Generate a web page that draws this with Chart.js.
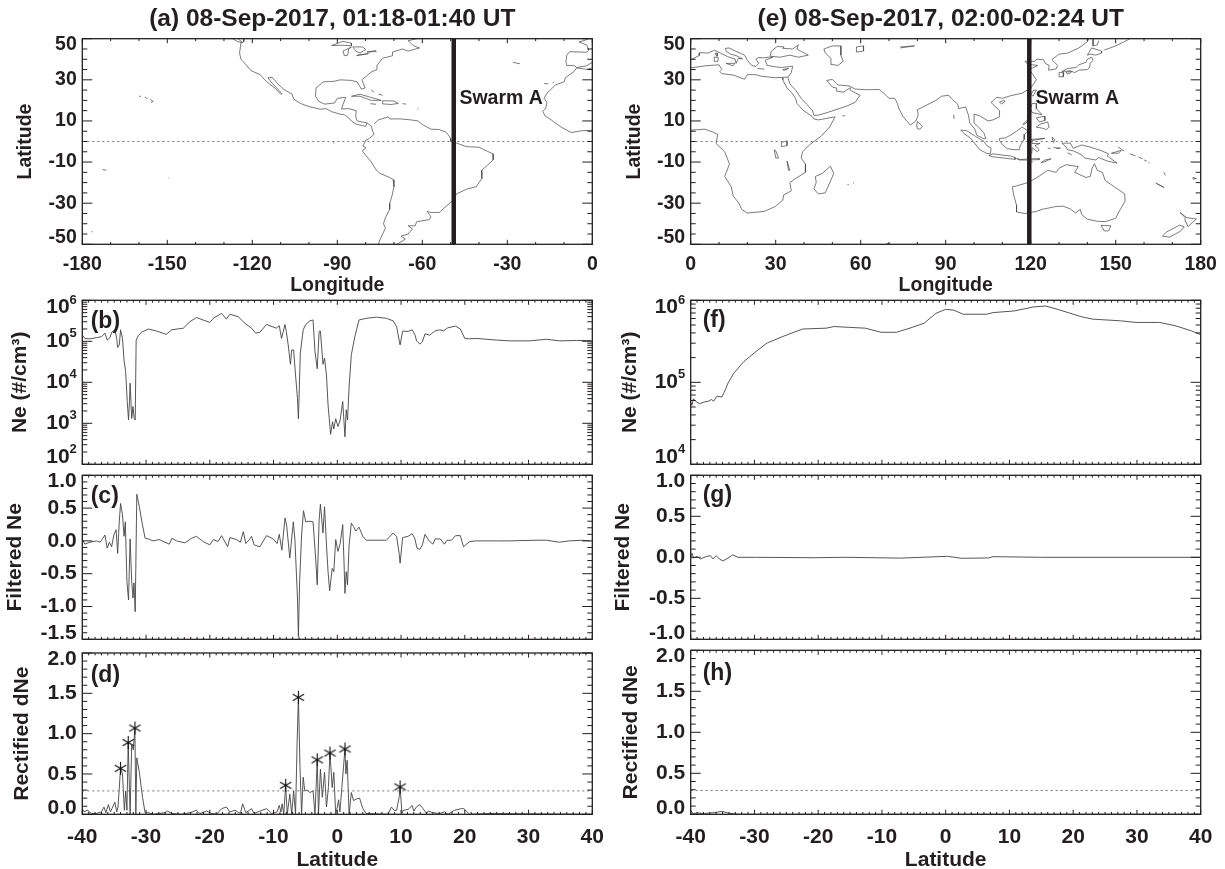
<!DOCTYPE html>
<html>
<head>
<meta charset="utf-8">
<title>Swarm A Ne, 08-Sep-2017</title>
<script src="https://cdn.jsdelivr.net/npm/chart.js@4"></script>
<style>
html, body { margin: 0; padding: 0; background: #fff; overflow: hidden; }
canvas { position: absolute; }
</style>
</head>
<body>
<script>
// tick values
const lonTicksA = [-180, -150, -120, -90, -60, -30, 0];
const lonTicksE = [0, 30, 60, 90, 120, 150, 180];
const mapLatTicks = [50, 30, 10, -10, -30, -50];
const latTicks = [-40, -30, -20, -10, 0, 10, 20, 30, 40];
const neTicksB = [6, 5, 4, 3, 2];
const neTicksF = [6, 5, 4];
const filtTicksC = [1.0, 0.5, 0.0, -0.5, -1.0, -1.5];
const filtTicksG = [1.0, 0.5, 0.0, -0.5, -1.0];
const rectTicks = [2.0, 1.5, 1.0, 0.5, 0.0];

// titles
const titleA = "(a) 08-Sep-2017, 01:18-01:40 UT";
const titleE = "(e) 08-Sep-2017, 02:00-02:24 UT";

// satellite track longitude and threshold
const trackLonA = -48.9;
const trackLonE = 119.5;
const swarmLabelA = [-46.9, 21];
const swarmLabelE = [121.7, 21];
const threshold = 0.29;

// panel (b) - log10 of Ne
const latB = [-40, -39.6, -38.8, -37.75, -37, -36.45, -36.1, -35.65, -35.4, -34.9, -34.6, -34.45, -34.2, -34, -33.7, -33.45, -33.2, -32.95, -32.75, -32.6, -32.5, -32.25, -32.05, -31.85, -31.7, -31.55, -31.2, -30.7, -29.65, -28.35, -26.8, -26, -24.15, -23.1, -22.1, -21.05, -20, -19.45, -18.15, -17.4, -16.85, -15.55, -14.5, -13.45, -12.8, -12.15, -11.1, -9.55, -9.1, -8.75, -8.2, -8, -7.7, -7.35, -7.15, -6.85, -6.55, -6.25, -6.1, -5.8, -5.35, -4.95, -4.3, -3.8, -3.5, -3.15, -2.85, -2.65, -2.25, -2, -1.7, -1.45, -1.2, -1.05, -0.75, -0.55, -0.25, 0.1, 0.45, 0.85, 1.05, 1.2, 1.4, 1.6, 1.85, 2.2, 2.75, 3.4, 4.55, 6.15, 7.7, 8.75, 9.3, 9.7, 9.85, 10.25, 11.1, 11.75, 12.15, 12.45, 12.95, 13.35, 13.75, 14.5, 15.3, 16.05, 16.7, 17.35, 18.55, 19.3, 20, 20.75, 21.8, 24.95, 27.05, 30.2, 32.8, 34.85, 37.5, 39.05, 39.85];
const neExpB = [5.15, 5.07, 5.06, 5.09, 5.11, 5.20, 5.03, 5.09, 5.22, 5.28, 5.07, 4.85, 4.91, 5.28, 5.07, 4.54, 4.26, 3.53, 3.08, 3.53, 3.98, 3.12, 3.41, 3.11, 3.08, 5.03, 5.14, 5.22, 5.30, 5.25, 5.17, 5.28, 5.32, 5.48, 5.58, 5.52, 5.46, 5.56, 5.68, 5.54, 5.66, 5.60, 5.44, 5.32, 5.20, 5.22, 5.41, 5.32, 5.38, 5.07, 5.41, 5.24, 4.91, 4.44, 4.79, 4.79, 4.18, 3.61, 3.11, 4.71, 5.28, 5.41, 5.50, 5.52, 4.75, 4.33, 5.24, 5.25, 4.44, 4.59, 4.18, 3.45, 3.0, 2.73, 3.04, 2.86, 3.11, 2.92, 3.08, 3.53, 3.04, 2.67, 3.33, 3.08, 3.89, 4.67, 5.11, 5.52, 5.56, 5.59, 5.56, 5.50, 5.36, 5.03, 4.91, 5.25, 5.24, 5.28, 5.17, 5.01, 4.93, 4.99, 5.18, 5.15, 5.25, 5.28, 5.26, 5.33, 5.37, 5.30, 5.07, 5.06, 5.07, 5.03, 5.01, 5.01, 5.05, 5.01, 5.02, 5.02, 5.02];

// panel (c)
const latC = [-40, -39.6, -38.8, -37.75, -37.2, -36.45, -36.1, -35.75, -35.4, -35.05, -34.7, -34.45, -34.2, -34, -33.7, -33.45, -33.25, -33, -32.75, -32.5, -32.25, -32.05, -31.9, -31.7, -31.45, -31.05, -30.55, -30.15, -29.65, -28.9, -27.95, -27.05, -26.35, -25.95, -25.2, -23.9, -22.85, -22.1, -21.05, -20, -19.45, -18.7, -18.15, -17.2, -16.85, -15.8, -15.2, -14.75, -14.35, -13.8, -13.45, -13.05, -12.15, -11.1, -10.05, -9.45, -9.1, -8.7, -8.2, -7.95, -7.45, -6.9, -6.65, -6.25, -6.1, -5.9, -5.6, -5.3, -4.95, -4.3, -3.8, -3.4, -3.15, -2.85, -2.65, -2.25, -2, -1.7, -1.45, -1.2, -0.8, -0.55, -0.25, 0.1, 0.45, 0.85, 1.05, 1.2, 1.4, 1.6, 1.85, 2.2, 2.55, 2.9, 3.4, 4, 4.55, 7.7, 8.75, 9.3, 9.7, 9.85, 10.25, 11.1, 11.75, 12.15, 12.5, 12.95, 13.35, 13.75, 14.4, 15, 15.35, 16.15, 16.8, 17.2, 17.9, 18.55, 19.3, 19.8, 20.75, 21.8, 24.95, 27, 31, 32.8, 34.85, 36.4, 38.5, 39.6];
const filtC = [0.03, -0.05, -0.02, 0, -0.02, 0.09, -0.11, -0.02, -0.09, 0.09, 0.17, -0.19, 0.29, 0.57, 0.40, 0.07, 0.29, -0.62, -0.90, 0.03, -0.62, -0.87, -0.64, -1.08, 0.71, 0.52, 0.24, 0.04, 0.03, 0, 0.02, -0.02, -0.05, 0.04, 0, -0.03, 0.04, 0.07, -0.01, -0.06, 0.02, -0.01, 0.08, -0.09, 0.05, 0.02, -0.02, 0.14, -0.04, 0.02, 0.07, -0.06, -0.09, 0.08, 0.03, -0.04, 0.10, -0.14, 0.35, 0.24, -0.26, 0.29, 0.02, -0.87, -1.46, -0.59, 0.09, 0.46, 0.29, 0.30, 0.29, -0.26, -0.67, 0.32, 0.56, 0.12, 0.52, -0.06, -0.47, -0.76, -0.42, -0.47, 0.02, -0.16, -0.04, 0.25, -0.31, -0.80, -0.47, -0.67, -0.07, 0.27, 0.22, 0.15, 0.21, 0.07, 0.01, 0.01, 0.12, 0.07, -0.19, -0.34, 0.05, 0.07, 0.11, 0.04, -0.11, -0.13, -0.06, 0.10, 0, -0.05, 0.03, 0.03, -0.05, 0.01, 0.01, 0.08, 0.08, -0.09, -0.01, 0, 0, 0, 0.01, 0.01, -0.02, 0, 0.01, 0];

// panel (d)
const latD = [-40, -39.75, -39.2, -38.55, -37.75, -37, -36.6, -36.3, -35.9, -35.6, -35.35, -34.9, -34.6, -34.4, -34, -33.7, -33.4, -33.2, -33, -32.8, -32.5, -32.25, -32, -31.75, -31.6, -31.45, -31.05, -30.55, -30.15, -29.65, -28.85, -27.95, -27.05, -26.6, -26, -24.45, -23.1, -22.1, -21.55, -20.5, -19.75, -18.95, -18.15, -17.4, -16.85, -16.05, -15.2, -14.85, -14.35, -13.8, -13.45, -13.05, -12.15, -11.1, -10.3, -9.45, -9.1, -8.85, -8.65, -8.4, -8.1, -7.85, -7.45, -7.15, -6.85, -6.55, -6.3, -6.1, -5.85, -5.6, -5.35, -5.1, -4.7, -4.3, -3.8, -3.5, -3.15, -2.95, -2.65, -2.35, -2, -1.7, -1.4, -1.15, -0.8, -0.55, -0.25, 0, 0.2, 0.4, 0.55, 1.2, 1.35, 1.55, 1.85, 2.2, 2.55, 3, 3.5, 4, 4.55, 7.95, 8.5, 8.9, 9.3, 9.7, 9.85, 10.15, 10.35, 11.1, 11.75, 12, 12.4, 12.95, 13.45, 14, 14.25, 14.95, 16.05, 16.85, 17.35, 18.4, 18.95, 19.45, 19.85, 20.75, 23.9, 38.55, 40];
const rectD = [0.07, 0.03, 0.05, 0.01, 0.01, 0.03, 0.09, 0.02, 0.12, 0.03, 0.07, 0.15, 0.03, 0.09, 0.57, 0.50, 0.05, 0.29, 0.05, 0.89, 0, 0.86, 0.80, 1.07, 0, 0.70, 0.52, 0.21, 0.02, 0.02, 0, 0.01, 0.02, 0.04, 0.01, 0, 0.02, 0.05, 0.01, 0.04, 0.01, 0, 0.07, 0.09, 0.03, 0.05, 0.01, 0.13, 0.02, 0.05, 0.07, 0.01, 0.04, 0.07, 0.01, 0.03, 0.11, 0.03, 0.13, 0, 0.36, 0, 0.25, 0, 0.29, 0, 0.90, 1.45, 0.58, 0, 0.46, 0.29, 0.30, 0.27, 0.29, 0, 0.675, 0, 0.56, 0.21, 0.52, 0.09, 0.33, 0.76, 0.33, 0.52, 0, 0.09, 0.18, 0.03, 0.17, 0.81, 0.50, 0.67, 0, 0.27, 0.17, 0.19, 0.20, 0.07, 0.01, 0, 0.09, 0.05, 0.05, 0.21, 0.34, 0.01, 0.05, 0.06, 0.11, 0.04, 0.09, 0.12, 0.07, 0.01, 0.04, 0.02, 0.01, 0.03, 0, 0.05, 0.06, 0.07, 0.07, 0, 0.01, 0, 0];
const peakLat = [-34, -32.8, -31.75, -8.1, -6.1, -3.15, -1.15, 1.2, 9.85];
const peakVal = [0.57, 0.89, 1.07, 0.36, 1.45, 0.675, 0.76, 0.81, 0.34];

// panel (f) - log10 of Ne
const latF = [-40, -39.8, -39.57, -39.1, -38.6, -37.85, -37.2, -36.75, -36.4, -35.9, -35.1, -34.45, -34.15, -33.25, -31.7, -29.85, -28, -25.5, -22.45, -18.75, -17.5, -15.1, -12.6, -10.15, -7.7, -5.25, -3.4, -1.55, 0, 1.25, 2.75, 6.45, 7.4, 10.75, 13.85, 15.7, 17.55, 21.25, 23.1, 27.4, 29.85, 33.55, 36, 38.45, 40];
const neExpF = [4.76, 4.72, 4.80, 4.76, 4.74, 4.76, 4.77, 4.79, 4.77, 4.83, 4.82, 4.93, 4.99, 5.11, 5.25, 5.37, 5.48, 5.56, 5.65, 5.66, 5.68, 5.67, 5.66, 5.61, 5.61, 5.67, 5.72, 5.84, 5.89, 5.88, 5.83, 5.83, 5.85, 5.87, 5.92, 5.93, 5.89, 5.80, 5.77, 5.75, 5.73, 5.73, 5.69, 5.63, 5.58];

// panel (g)
const latG = [-40, -39.8, -39.55, -39.05, -38.45, -37.55, -36.9, -36.5, -36, -35.5, -34.95, -34.15, -33.4, -32.6, -29.85, -20.6, -15.7, -7.1, 0.3, 2.5, 6.75, 7.4, 15, 40];
const filtG = [0, 0.05, -0.01, 0.01, -0.02, 0.01, 0.02, -0.02, 0.02, -0.02, -0.045, -0.01, 0.03, 0, 0, -0.005, 0, -0.01, 0.012, -0.012, -0.008, 0.008, 0, 0];

// panel (h)
const latH = [-40, -39.7, -39.05, -37.85, -36.3, -35.1, -34.15, -32.95, -32.3, 40];
const rectH = [0.05, 0.01, 0.016, 0.01, 0.02, 0.036, 0.016, 0.004, 0, 0];

// coastlines as [lon, lat] runs
const coastA = [
  [[-127, 50], [-125, 48.5], [-123.5, 48.2], [-125, 50]],
  [[-123, 50], [-123, 48.5], [-124, 48], [-124.5, 43], [-124, 40], [-122, 37], [-120.5, 34.5], [-117.2, 32.5], [-115.8, 30.3], [-114, 28], [-112, 26], [-110, 23], [-109.5, 23.2], [-111, 25.5], [-112.8, 28], [-114.5, 31], [-113, 31.3], [-111, 28], [-109, 25.5], [-106, 23], [-105.3, 20.5], [-103, 18.5], [-100, 17], [-96, 15.7], [-94, 16], [-92, 14.5], [-89, 13.3], [-87.5, 13], [-86, 11.5], [-85, 10], [-83.5, 8.5], [-81, 7.7], [-80, 7.3], [-79.5, 9], [-78, 7.5], [-77.5, 5], [-77, 3.5], [-78.7, 1.5], [-80, 0.5], [-80.5, -1], [-81, -2.2], [-79.9, -3], [-81.2, -4.5], [-79.8, -7], [-78, -10], [-76.3, -13.8], [-75, -15.5], [-71.5, -17.5], [-70.3, -18.5], [-70, -22], [-70.8, -27], [-71.5, -30], [-71.5, -33], [-73, -37], [-73.7, -40], [-73, -42], [-74, -45], [-75, -48], [-75.5, -50]],
  [[-79.5, 9], [-83, 10], [-83.5, 12], [-83.3, 15], [-86, 16], [-88.5, 15.8], [-88, 18], [-87, 21.5], [-90, 21], [-91, 18.7], [-94.5, 18.2], [-96.5, 19.5], [-97.7, 22], [-97.5, 26], [-95, 29], [-91, 29.3], [-89, 30], [-85, 29.7], [-83, 29], [-81.5, 25.5], [-80.2, 26], [-81.3, 30], [-78, 33.8], [-76, 35], [-76, 37], [-74, 40.5], [-70.5, 41.7], [-70.5, 43.5], [-67, 45], [-65, 44], [-61, 45.5], [-63, 46.5], [-65, 49], [-62, 50]],
  [[-77, 8.5], [-75.5, 10.5], [-72, 12], [-71.5, 11], [-68, 11], [-64, 10.5], [-61.5, 10], [-60, 8.3], [-57, 6], [-54, 5.8], [-51.5, 4.5], [-50, 1.5], [-50, 0], [-48, -0.7], [-44.5, -2.5], [-40, -2.8], [-37, -4.8], [-35, -6], [-35, -9], [-37, -11.5], [-39, -14], [-39, -18], [-41, -22], [-44, -23], [-48, -25.5], [-48.7, -28], [-52, -32], [-54, -34.5], [-57, -34.5], [-58.3, -34], [-57, -36.5], [-57.5, -38], [-62, -39], [-62.5, -41], [-65, -41], [-63.5, -42.5], [-65, -45], [-67.5, -46], [-66, -47.5], [-69, -50]],
  [[-160, 22], [-159.3, 22]], [[-158, 21.5], [-157, 21]], [[-156, 20.5], [-155, 19.5], [-155.8, 19]],
  [[-85, 22], [-82, 23], [-77, 21], [-74.5, 20], [-78, 20], [-82, 22], [-85, 22]],
  [[-74, 19.8], [-70, 19.7], [-68.5, 18.5], [-71, 18], [-74, 18.3], [-74, 19.8]],
  [[-78.3, 18.4], [-76.3, 18.1]], [[-67, 18.4], [-65.7, 18.2]], [[-78, 25], [-77, 24]], [[-75.5, 23], [-74, 22.5]],
  [[-61.7, 16.2], [-61.3, 15.8]], [[-91.5, -0.5], [-91, -0.8]],
  [[-172.8, -13.6], [-171.5, -14]], [[-149.5, -17.5], [-149.3, -17.8]], [[-176.8, -43.8], [-176.3, -44]],
  [[-17, 28.2], [-15.5, 28]], [[-14, 28.6], [-13.5, 29]], [[-28, 38.5], [-25.5, 37.8]],
  [[-92, 46.7], [-88, 48.7], [-85, 47.8], [-85, 46.6], [-88, 46.8], [-92, 46.7]],
  [[-88, 44], [-87.5, 41.7], [-86.3, 42], [-86, 45], [-85, 46], [-88, 44]],
  [[-84.5, 46], [-81, 46], [-80, 44.7], [-82, 43], [-83.5, 44], [-84.5, 46]],
  [[-83.3, 41.7], [-79, 42.8], [-80, 42.5], [-83, 42]], [[-79.5, 43.5], [-76.2, 43.8], [-76.5, 44.2], [-79.5, 43.5]],
  [[-1.6, 49.7], [-4.7, 48.4], [-2, 47], [-1.2, 44.5], [-2, 43.4], [-8, 43.7], [-9, 42], [-9.3, 38.7], [-9, 37], [-6.5, 37], [-5.5, 36], [-2, 36.8], [0, 38.5]],
  [[0, 35.8], [-2, 35.1], [-5.5, 35.8], [-6.5, 34], [-9.5, 31], [-10, 29], [-13, 27.5], [-16, 23.5], [-17, 21], [-16, 19], [-16.5, 16], [-17.5, 14.7], [-16.7, 12.5], [-15, 11], [-13, 9], [-11, 7], [-7.5, 4.4], [-4, 5.2], [0, 5.5]]
];
const coastE = [
  [[0, 35.8], [5, 36.8], [10, 37.3], [11, 35], [10.3, 34], [11, 33], [15, 32.3], [19, 30.3], [20, 32.5], [23, 32.5], [25, 31.7], [30, 31], [32.5, 31.2], [34.3, 31.3], [35.5, 33.5], [36, 36.6], [32, 36], [30, 36.3], [27, 37], [26.3, 39.5], [29, 41], [27.5, 41], [26, 40.7], [24, 40.8], [23, 40], [24, 38], [23, 36.5], [21.5, 37], [20, 39.5], [19, 42], [15, 44.5], [13.5, 45.5], [12.3, 45.3], [12.5, 44], [14, 42.5], [16, 41.8], [18.3, 40.2], [16.8, 40.4], [16, 38], [15.7, 40], [13, 41.3], [10.5, 43], [8.5, 44.4], [6, 43], [3.2, 43.2], [3, 41.8], [0, 39.8]],
  [[32.5, 31], [32.5, 30], [34, 26], [35.5, 24], [37, 21], [37.5, 18.5], [39.5, 15.5], [43, 12], [43.5, 11], [45, 10.5], [51, 12], [49, 7], [46, 2.5], [42, -1.5], [39.5, -5], [39, -8], [40.5, -11], [40.5, -15], [37, -18], [35, -20], [35.5, -24], [32.8, -26], [32.5, -28.5], [30, -31.5], [26, -34], [20, -34.8], [18, -33], [17, -30], [15, -26.5], [14.3, -22], [12, -17], [13.7, -11], [12, -5], [9, -1], [9.5, 3.5], [8, 4.5], [5, 6], [0, 5.5]],
  [[34.3, 31.3], [35, 28], [37, 25], [39, 21], [41, 18], [43, 15], [43.5, 12.7], [45, 12.8], [48, 14], [52, 15.8], [55, 17.2], [58, 19], [59.8, 22.5], [58, 23.7], [56.3, 25], [56.3, 26.2], [54, 24], [51.5, 24.5], [51.5, 26], [50, 26.5], [48, 29.7], [50, 30.2], [52, 27.5], [56, 27], [58, 25.5], [62, 25.2], [66.5, 25.3], [68, 23.7], [70, 21], [72, 21], [72.8, 19], [73.5, 16], [75, 12], [77.5, 8], [79.5, 10], [80.3, 13], [80, 15.5], [82.3, 17], [86.5, 20], [88.5, 22], [91, 22.5], [92, 21], [94.3, 18], [94.5, 16], [97, 16.8], [98, 13], [98.5, 9], [100.3, 6], [101, 3], [103.5, 1.3], [104.2, 1.5], [103.5, 4], [102, 6.5], [100, 9], [100, 13.3], [102, 12.5], [105, 10], [106.7, 10.5], [109, 12], [109, 15], [106, 19], [108, 21.5], [110, 21], [113, 22.3], [117, 23.5], [120, 26], [122, 30], [120.8, 32.5], [119.5, 35], [122.5, 37], [119, 37.5], [118, 39], [121.5, 39], [122, 40], [124.5, 39.8], [125.2, 38], [126.5, 37], [126.3, 34.7], [129, 35.3], [129.5, 37], [127.5, 39.8], [130, 42.5], [133, 43], [137, 45.5], [140, 48.5], [140.5, 50]],
  [[47, 45], [50, 46.5], [53, 46.5], [53, 42], [53.8, 39], [52, 37], [49.5, 37.5], [49.5, 40.5], [47.5, 43], [47, 45]],
  [[28, 41.5], [28.5, 44], [30.5, 46.2], [33, 46], [32.5, 45.3], [36, 45], [38, 47], [37.5, 45], [41.5, 42], [38, 41], [35, 42], [31.5, 41], [28, 41.5]],
  [[58.5, 46], [61, 46.5], [61, 44], [58.5, 43.5], [58.5, 46]], [[74, 46], [79, 46.5], [74, 45.5]],
  [[12.5, 38], [15.5, 38], [15, 36.8], [12.5, 38]], [[8.3, 41], [9.7, 41], [9.6, 39], [8.5, 39], [8.3, 41]], [[8.7, 43], [9.5, 43], [9.3, 41.5], [8.7, 42.3], [8.7, 43]], [[23.5, 35.5], [26, 35.2]], [[32.5, 35], [34.5, 35.5], [32.9, 34.6], [32.5, 35]],
  [[131, 34], [133, 35.5], [136, 36], [137, 37.3], [139.5, 38.5], [140, 40], [141.5, 41], [142, 39.5], [141, 38], [140.8, 36], [140, 35], [137, 34.7], [135.5, 33.5], [134, 34.4], [131, 34]],
  [[130, 33.5], [131.7, 33.5], [131.5, 31.5], [130.3, 31.5], [130, 33.5]], [[132.5, 33.8], [134.5, 34], [134, 33.3], [133, 32.8], [132.5, 33.8]],
  [[140, 42], [141.5, 45.5], [145, 44], [145, 43], [143, 42], [141, 42.5], [140, 42]], [[142, 50], [142, 46.5], [143.5, 47], [144, 49]], [[146, 44.5], [148, 45.5], [150, 46.5], [153, 48.5], [155, 50]],
  [[120.2, 23], [121, 25], [122, 25], [120.8, 22], [120.2, 23]], [[109, 19.2], [110.5, 20], [111, 19.5], [109.7, 18.2], [109, 19.2]],
  [[120.5, 18.5], [122, 18.5], [122, 16], [124, 13], [122, 13.7], [120.5, 14], [120, 16], [120.5, 18.5]], [[122, 7], [123.5, 8.5], [126, 9.5], [126.5, 7], [125.5, 5.8], [124, 6.5], [122, 7]], [[122, 11.5], [125, 12.3], [125, 10.2], [123, 9.5], [122, 11.5]], [[117.2, 8.3], [119.5, 11.3], [118.5, 9], [117.2, 8.3]],
  [[95.3, 5.6], [97.5, 5.2], [100.5, 2.5], [103.5, 0], [104.5, -2], [106, -3.2], [105.8, -5.8], [104.5, -5.8], [102, -4], [100.3, -1], [98.7, 1.7], [96.5, 3.8], [95.3, 5.6]],
  [[105.2, -6.8], [106.7, -6], [110.5, -6.7], [112.7, -7], [114.5, -7.8], [114.5, -8.7], [110, -8], [106.5, -7.4], [105.2, -6.8]],
  [[109, 1.5], [111, 1.7], [113, 3.2], [115, 5], [117, 7], [119, 5.2], [117.8, 3.5], [117.7, 1], [116.3, -2], [116, -4], [114.5, -4], [111.7, -3.5], [110, -1.5], [109, 0.5], [109, 1.5]],
  [[119.5, -5.5], [120.4, -5.6], [120.5, -3], [122.3, -5], [123, -4], [121.5, -2], [123.3, -0.9], [120.5, -1], [120.5, 0.5], [125, 1.5], [120, 1], [119.5, -3.5], [119.5, -5.5]],
  [[115, -8.3], [116.5, -8.8], [119, -8.5], [123, -8.3], [123, -8.8], [119, -9], [116, -9], [115, -8.3]], [[123.6, -10.3], [125, -9], [127.2, -8.4], [125, -9.8], [123.6, -10.3]], [[119.2, -9.6], [120.8, -10]], [[127.5, 2], [128.5, 1], [128, -0.5], [127.5, 2]], [[128, -3], [130.5, -3.2], [129, -3.5]], [[126, -3.2], [127, -3.5]], [[133, -5.5], [134.5, -6.5]],
  [[131, -0.8], [134, -0.8], [135, -3.3], [138, -1.7], [141, -2.7], [145, -4.5], [147.5, -6], [147, -7], [150.5, -10.5], [147, -9.5], [144, -7.8], [143, -9], [139, -8], [138, -6.5], [135, -4.5], [133, -4], [132.5, -2.7], [131, -0.8]],
  [[148.5, -5.7], [152, -4.3], [151, -5.7], [148.5, -5.7]], [[150.8, -2.6], [153, -4.7]], [[155, -6], [157, -7]], [[158, -7.5], [159.5, -8.5]], [[160, -9], [161, -9.5]], [[161.5, -10], [162, -10.5]],
  [[167, -15], [167.5, -16.5]], [[164, -20], [166.5, -22], [167, -22.3], [164.5, -20.5]], [[177.3, -17.5], [178.5, -18], [177.5, -18.3], [177.3, -17.5]],
  [[113.5, -22], [114, -26], [115, -31], [115, -34.3], [118, -35], [122, -34], [124, -33], [129, -31.6], [131.5, -31.5], [134, -32.8], [135.8, -34.8], [137.5, -33], [138, -35.5], [140, -37.8], [143.5, -38.8], [146.3, -39], [150, -37.3], [151.3, -33.8], [153.3, -29], [153.2, -25.5], [149.5, -22], [146.3, -19], [145.3, -15], [143.5, -14], [142.5, -10.8], [141.7, -13], [141, -17], [139.5, -17.5], [135.5, -15], [136.8, -12.2], [132.5, -11.3], [130, -13], [129, -15], [126, -14], [122.3, -17.5], [119, -20], [114.5, -21.8], [113.5, -22]],
  [[144.8, -40.8], [148.3, -41], [147.5, -43.5], [146, -43.5], [144.8, -40.8]],
  [[172.7, -34.5], [175, -37], [178.5, -37.7], [177, -39.5], [175.5, -41.5], [174.8, -39], [174.5, -37], [172.7, -34.5]], [[172.5, -40.7], [174.2, -41.5], [172.8, -43.7], [171, -45], [169, -46.5], [166.5, -46], [168, -44], [172.5, -40.7]],
  [[49.3, -12], [50.5, -15.5], [47.5, -25], [45, -25.5], [43.5, -23], [44.3, -20], [44, -17], [46.5, -15.5], [49.3, -12]],
  [[80, 9.7], [81.8, 7.5], [81, 6], [80, 6.2], [79.8, 8], [80, 9.7]],
  [[32, -0.5], [34, 0.3], [34, -2], [32, -2.5], [32, -0.5]], [[29.5, -4], [30, -4.5], [31, -8], [30, -8], [29.5, -4]], [[34, -9.5], [35, -14], [34.5, -14], [34, -9.5]],
  [[53.5, 12.5], [54.5, 12.5]], [[55.3, -21], [55.8, -21]], [[57.3, -20.2], [57.7, -20.2]], [[92.8, 13], [93, 11]], [[69, -49.5], [70, -49.7]]
];

const FONT = "'Liberation Sans', Arial, sans-serif";
const INK = "#231f20";
Chart.defaults.font.family = FONT;
Chart.defaults.color = INK;

function points(xs, ys) {
  return xs.map((x, i) => ({ x: x, y: ys[i] }));
}

function lineSet(data, width, color, dash) {
  return { data: data, showLine: true, tension: 0, pointRadius: 0, borderWidth: width, borderColor: color, borderDash: dash || [] };
}

function mapSets(coast, trackLon, xMin, xMax) {
  const sets = [lineSet(points([trackLon, trackLon], [-50, 50]), 4.5, INK)];
  sets.push(lineSet(points([xMin, xMax], [0, 0]), 1, "#777", [2, 3]));
  coast.forEach(run => {
    sets.push(lineSet(run.map(p => ({ x: p[0], y: p[1] })), 0.7, "#444"));
  });
  return sets;
}

// asterisk used to mark the peaks
function starMark() {
  const c = document.createElement("canvas");
  c.width = 15; c.height = 15;
  const g = c.getContext("2d");
  g.strokeStyle = "#111";
  g.lineWidth = 1.1;
  g.beginPath();
  g.moveTo(7.5, 1); g.lineTo(7.5, 14);
  g.moveTo(1.8, 4.2); g.lineTo(13.2, 10.8);
  g.moveTo(13.2, 4.2); g.lineTo(1.8, 10.8);
  g.stroke();
  return c;
}

function drawYLabels(ctx, chart, p) {
  const yScale = chart.scales.y;
  const x = chart.chartArea.left - 5.5;
  ctx.fillStyle = INK;
  ctx.textBaseline = "middle";
  ctx.textAlign = "right";
  p.yLabels.forEach((v, i) => {
    let shift = 0;
    if (i === 0) shift = p.log ? 7.4 : 6.4;
    if (i === p.yLabels.length - 1) shift = p.log ? -7 : -6.4;
    if (p.log) {
      const y = yScale.getPixelForValue(Math.pow(10, v)) + shift;
      ctx.font = "bold 13px " + FONT;
      ctx.fillText(String(v), x, y - 7.5);
      ctx.font = "bold " + p.fontSize + "px " + FONT;
      ctx.fillText("10", x - 7.2, y);
    } else {
      const y = yScale.getPixelForValue(v) + shift;
      ctx.font = "bold " + p.fontSize + "px " + FONT;
      ctx.fillText(v.toFixed(p.yDigits), x, y);
    }
  });
}

// IDL style box: inward ticks on all four sides, labels and panel letter
const boxPlugin = {
  id: "box",
  afterDraw(chart, args, p) {
    const ctx = chart.ctx;
    const a = chart.chartArea;
    const xs = chart.scales.x;
    const ys = chart.scales.y;
    ctx.save();
    ctx.strokeStyle = INK;
    ctx.lineWidth = 1.3;
    ctx.strokeRect(a.left, a.top, a.right - a.left, a.bottom - a.top);
    ctx.lineWidth = 1;
    ctx.beginPath();
    p.xMinor.forEach(v => {
      const px = xs.getPixelForValue(v);
      const len = p.xMajor.includes(v) ? 4.5 : 2.4;
      ctx.moveTo(px, a.top); ctx.lineTo(px, a.top + len);
      ctx.moveTo(px, a.bottom); ctx.lineTo(px, a.bottom - len);
    });
    p.yMinor.forEach(v => {
      const py = ys.getPixelForValue(v);
      const len = p.yMajor.includes(v) ? 10 : 5;
      ctx.moveTo(a.left, py); ctx.lineTo(a.left + len, py);
      ctx.moveTo(a.right, py); ctx.lineTo(a.right - len, py);
    });
    ctx.stroke();
    drawYLabels(ctx, chart, p);
    ctx.textAlign = "left";
    ctx.textBaseline = "middle";
    if (p.letter) {
      ctx.font = "bold 23px " + FONT;
      ctx.fillText(p.letter, a.left + p.letterX, a.top + p.letterY);
    }
    if (p.swarm) {
      ctx.font = "bold 19.5px " + FONT;
      ctx.fillText("Swarm A", xs.getPixelForValue(p.swarm[0]), ys.getPixelForValue(p.swarm[1]));
    }
    if (p.title) {
      ctx.textAlign = "center";
      ctx.font = "bold 24.5px " + FONT;
      ctx.fillText(p.title, (a.left + a.right) / 2 - 5, a.top - 19);
    }
    ctx.restore();
  }
};

function addPanel(cfg) {
  const cv = document.createElement("canvas");
  const w = cfg.col === 0 ? 630 : 640;
  const cLeft = cfg.col === 0 ? 0 : 610;
  const plotLeft = cfg.col === 0 ? 82.3 : 690.7;
  const h = cfg.canvasBottom - cfg.canvasTop;
  const labelSize = cfg.fontSize;
  cv.width = w; cv.height = h;
  cv.style.left = cLeft + "px";
  cv.style.top = cfg.canvasTop + "px";
  document.body.appendChild(cv);

  new Chart(cv, {
    type: "scatter",
    data: { datasets: cfg.datasets },
    options: {
      responsive: false,
      animation: false,
      events: [],
      devicePixelRatio: 1,
      layout: { padding: { top: cfg.plotTop - cfg.canvasTop, right: cLeft + w - plotLeft - 510, left: 0, bottom: 0 } },
      plugins: {
        legend: { display: false },
        tooltip: { enabled: false },
        title: { display: false },
        box: {
          xMajor: cfg.xTicks, xMinor: cfg.xMinor, yMajor: cfg.yMajor, yMinor: cfg.yMinor,
          yLabels: cfg.yLabels, yDigits: cfg.yDigits, log: cfg.log, fontSize: labelSize, title: cfg.title,
          letter: cfg.letter, letterX: cfg.col === 0 ? 8.4 : 12, letterY: cfg.letterY, swarm: cfg.swarm
        }
      },
      scales: {
        x: {
          type: "linear",
          min: cfg.xMin, max: cfg.xMax,
          grid: { display: false, drawTicks: false },
          border: { display: false },
          afterBuildTicks(s) { s.ticks = cfg.xTicks.map(v => ({ value: v })); },
          afterFit(s) { s.height = cfg.canvasBottom - cfg.plotBottom; },
          ticks: { display: !!cfg.xTitle, autoSkip: false, maxRotation: 0, padding: cfg.xTickPad, font: { size: labelSize, weight: "bold", lineHeight: 1 }, color: INK, callback: v => String(v) },
          title: { display: !!cfg.xTitle, text: cfg.xTitle, font: { size: labelSize, weight: "bold", lineHeight: 1 }, color: INK, padding: { top: 0, bottom: cfg.xTitlePad } }
        },
        y: {
          type: cfg.log ? "logarithmic" : "linear",
          min: cfg.yMin, max: cfg.yMax,
          grid: { display: false, drawTicks: false },
          border: { display: false },
          afterFit(s) { s.width = plotLeft - cLeft; },
          ticks: { display: false },
          title: { display: true, text: cfg.yTitle, font: { size: labelSize, weight: "bold", lineHeight: 1 }, color: INK, padding: { top: cfg.yTitleX - labelSize / 2, bottom: 0 } }
        }
      }
    },
    plugins: [boxPlugin]
  });
}

// minor tick lists
function steps(from, to, step) {
  const out = [];
  const n = Math.round((to - from) / step);
  for (let i = 0; i <= n; i++) out.push(Math.round((from + i * step) * 1000) / 1000);
  return out;
}
function logSteps(lo, hi) {
  const out = [];
  for (let e = lo; e < hi; e++) {
    for (let m = 1; m < 10; m++) out.push(m * Math.pow(10, e));
  }
  out.push(Math.pow(10, hi));
  return out;
}
const latMinor = steps(-40, 40, 1);
const mapYMinor = steps(-50, 50, 5);

// maps
addPanel({
  col: 0, canvasTop: 0, canvasBottom: 298, plotTop: 38.7, plotBottom: 244.3, title: titleA, fontSize: 19.5,
  xMin: -180, xMax: 0, xTicks: lonTicksA, xMinor: steps(-180, 0, 10), xTitle: "Longitude", xTickPad: 11, xTitlePad: 2.25,
  yMin: -50, yMax: 50, yMajor: mapLatTicks, yMinor: mapYMinor, yLabels: mapLatTicks, yDigits: 0, yTitle: "Latitude", yTitleX: 26,
  swarm: swarmLabelA, datasets: mapSets(coastA, trackLonA, -180, 0)
});
addPanel({
  col: 1, canvasTop: 0, canvasBottom: 298, plotTop: 38.7, plotBottom: 244.3, title: titleE, fontSize: 19.5,
  xMin: 0, xMax: 180, xTicks: lonTicksE, xMinor: steps(0, 180, 10), xTitle: "Longitude", xTickPad: 11, xTitlePad: 2.25,
  yMin: -50, yMax: 50, yMajor: mapLatTicks, yMinor: mapYMinor, yLabels: mapLatTicks, yDigits: 0, yTitle: "Latitude", yTitleX: 24.6,
  swarm: swarmLabelE, datasets: mapSets(coastE, trackLonE, 0, 180)
});

// Ne
addPanel({
  col: 0, canvasTop: 280, canvasBottom: 470, plotTop: 300.3, plotBottom: 464.3, letter: "(b)", letterY: 21, fontSize: 21,
  xMin: -40, xMax: 40, xTicks: latTicks, xMinor: latMinor,
  log: true, yMin: 1e2, yMax: 1e6, yMajor: neTicksB.map(e => Math.pow(10, e)), yMinor: logSteps(2, 6), yLabels: neTicksB, yTitle: "Ne (#/cm³)", yTitleX: 20,
  datasets: [lineSet(points(latB, neExpB.map(e => Math.pow(10, e))), 0.9, "#444")]
});
addPanel({
  col: 1, canvasTop: 280, canvasBottom: 470, plotTop: 300.3, plotBottom: 464.3, letter: "(f)", letterY: 20, fontSize: 21,
  xMin: -40, xMax: 40, xTicks: latTicks, xMinor: latMinor,
  log: true, yMin: 1e4, yMax: 1e6, yMajor: neTicksF.map(e => Math.pow(10, e)), yMinor: logSteps(4, 6), yLabels: neTicksF, yTitle: "Ne (#/cm³)", yTitleX: 20,
  datasets: [lineSet(points(latF, neExpF.map(e => Math.pow(10, e))), 0.9, "#444")]
});

// filtered
addPanel({
  col: 0, canvasTop: 470, canvasBottom: 645, plotTop: 475.3, plotBottom: 639.3, letter: "(c)", letterY: 21.4, fontSize: 21,
  xMin: -40, xMax: 40, xTicks: latTicks, xMinor: latMinor,
  yMin: -1.5, yMax: 1, yMajor: filtTicksC, yMinor: steps(-1.5, 1, 0.1), yLabels: filtTicksC, yDigits: 1, yTitle: "Filtered Ne", yTitleX: 15,
  datasets: [lineSet(points(latC, filtC), 0.9, "#444")]
});
addPanel({
  col: 1, canvasTop: 470, canvasBottom: 645, plotTop: 475.3, plotBottom: 639.3, letter: "(g)", letterY: 20, fontSize: 21,
  xMin: -40, xMax: 40, xTicks: latTicks, xMinor: latMinor,
  yMin: -1, yMax: 1, yMajor: filtTicksG, yMinor: steps(-1, 1, 0.1), yLabels: filtTicksG, yDigits: 1, yTitle: "Filtered Ne", yTitleX: 13,
  datasets: [lineSet(points(latG, filtG), 0.9, "#444")]
});

// rectified
addPanel({
  col: 0, canvasTop: 645, canvasBottom: 875, plotTop: 650.3, plotBottom: 814.3, letter: "(d)", letterY: 23, fontSize: 21,
  xMin: -40, xMax: 40, xTicks: latTicks, xMinor: latMinor, xTitle: "Latitude", xTickPad: 12.5, xTitlePad: 4.25,
  yMin: 0, yMax: 2, yMajor: rectTicks, yMinor: steps(0, 2, 0.1), yLabels: rectTicks, yDigits: 1, yTitle: "Rectified dNe", yTitleX: 22,
  datasets: [
    { data: points(peakLat, peakVal), pointStyle: starMark(), pointRadius: 7, showLine: false },
    lineSet(points([-40, 40], [threshold, threshold]), 1, "#777", [2, 3]),
    lineSet(points(latD, rectD), 0.9, "#444")
  ]
});
addPanel({
  col: 1, canvasTop: 645, canvasBottom: 875, plotTop: 650.3, plotBottom: 814.3, letter: "(h)", letterY: 23, fontSize: 21,
  xMin: -40, xMax: 40, xTicks: latTicks, xMinor: latMinor, xTitle: "Latitude", xTickPad: 12.5, xTitlePad: 4.25,
  yMin: 0, yMax: 2, yMajor: rectTicks, yMinor: steps(0, 2, 0.1), yLabels: rectTicks, yDigits: 1, yTitle: "Rectified dNe", yTitleX: 21,
  datasets: [
    lineSet(points([-40, 40], [threshold, threshold]), 1, "#777", [2, 3]),
    lineSet(points(latH, rectH), 0.9, "#444")
  ]
});
</script>
</body>
</html>
